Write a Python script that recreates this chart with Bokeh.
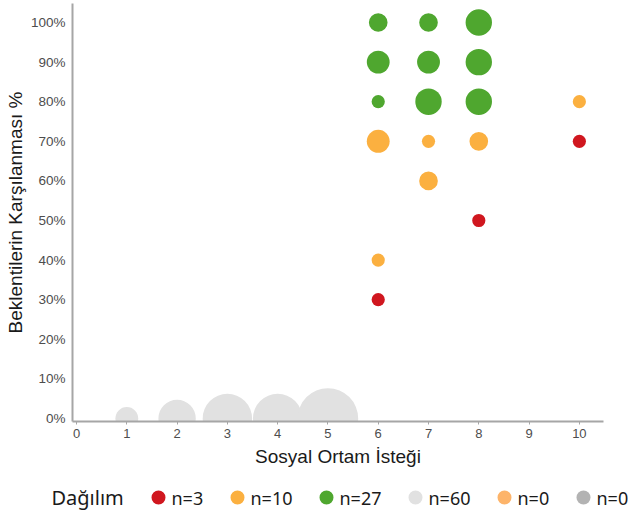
import numpy as np
from bokeh.plotting import figure
from bokeh.layouts import column
from bokeh.models import Range1d, FixedTicker
from bokeh.core.properties import value
from bokeh.embed import file_html
from bokeh.resources import INLINE

# ---------------- data ----------------
red_x = [6, 8, 10]
red_y = [30, 50, 70]
red_n = [1, 1, 1]

orange_x = [6, 6, 7, 7, 8, 10]
orange_y = [40, 70, 60, 70, 70, 80]
orange_n = [1, 3, 2, 1, 2, 1]

green_x = [6, 6, 6, 7, 7, 7, 8, 8, 8]
green_y = [80, 90, 100, 80, 90, 100, 80, 90, 100]
green_n = [1, 3, 2, 4, 3, 2, 4, 4, 4]

gray_x = [1, 2, 3, 4, 5]
gray_y = [0, 0, 0, 0, 0]
gray_n = [3, 8, 14, 14, 21]

lorange_x, lorange_y, lorange_n = [], [], []
dgray_x, dgray_y, dgray_n = [], [], []

x_ticks = [0, 1, 2, 3, 4, 5, 6, 7, 8, 9, 10]
y_ticks = [0, 10, 20, 30, 40, 50, 60, 70, 80, 90, 100]
y_tick_labels = ["0%", "10%", "20%", "30%", "40%", "50%", "60%", "70%", "80%", "90%", "100%"]

x_title = "Sosyal Ortam İsteği"
y_title = "Beklentilerin Karşılanması %"
legend_title = "Dağılım"

series = [
    (red_x, red_y, red_n, "#d0171f"),
    (orange_x, orange_y, orange_n, "#fbb040"),
    (green_x, green_y, green_n, "#4fa72f"),
    (gray_x, gray_y, gray_n, "#e1e1e1"),
    (lorange_x, lorange_y, lorange_n, "#fdb46a"),
    (dgray_x, dgray_y, dgray_n, "#b3b3b3"),
]

K = 6.6  # px radius per sqrt(count)

W = 628
H_MAIN = 469
H_LEG = 42

p = figure(width=W, height=H_MAIN, x_range=Range1d(-0.08, 10.48), y_range=Range1d(-0.76, 104.8),
           toolbar_location=None, output_backend="svg",
           min_border_left=72, min_border_right=25, min_border_top=3, min_border_bottom=40)
p.outline_line_color = None
p.grid.visible = False
p.background_fill_color = "white"
p.border_fill_color = "white"
p.frame_align = False

for xs, ys, ns, col in series:
    sizes = [2 * K * np.sqrt(n) for n in ns]
    p.scatter(x=xs, y=ys, size=sizes, fill_color=col, line_color=None, marker="circle")

for ax in (p.xaxis[0], p.yaxis[0]):
    ax.axis_line_color = "#a6a6a6"
    ax.axis_line_width = 2
    ax.major_tick_line_color = "#a6a6a6"
    ax.minor_tick_line_color = None
    ax.major_label_text_font = "Liberation Sans"
    ax.major_label_text_color = "#4d4d4d"
    ax.axis_label_text_font = "Liberation Sans"
    ax.axis_label_text_font_style = "normal"
    ax.axis_label_text_color = "#1a1a1a"
    ax.axis_label_text_font_size = "19px"

p.xaxis.ticker = FixedTicker(ticks=x_ticks)
p.xaxis.major_tick_out = 3
p.xaxis.major_tick_in = 0
p.xaxis.major_label_standoff = 4
p.xaxis.major_label_text_font_size = "13px"
p.xaxis.axis_label = x_title
p.xaxis.axis_label_standoff = 5

p.yaxis.ticker = FixedTicker(ticks=y_ticks)
p.yaxis.major_label_overrides = {t: l for t, l in zip(y_ticks, y_tick_labels)}
p.yaxis.major_tick_out = 0
p.yaxis.major_tick_in = 0
p.yaxis.major_label_standoff = 7
p.yaxis.major_label_text_font_size = "13.5px"
p.yaxis.axis_label = y_title
p.yaxis.axis_label_standoff = 2

# ---------------- legend ----------------
leg = figure(width=W, height=H_LEG, x_range=Range1d(0, W), y_range=Range1d(0, H_LEG),
             toolbar_location=None, output_backend="svg", min_border=0,
             x_axis_location=None, y_axis_location=None)
leg.outline_line_color = None
leg.grid.visible = False
leg.frame_align = False

labels = ["n=%d" % sum(s[2]) for s in series]
colors = [s[3] for s in series]
yc = 14
start = 158
cx = []
pos = start
for lab in labels:
    cx.append(pos)
    pos += 49 + 10 * len(lab)
leg.scatter(x=cx, y=[yc] * len(cx), size=14, fill_color=colors, line_color=None, marker="circle")
leg.text(x=[c + 13 for c in cx], y=[yc] * len(cx), text=labels, text_font=value("Noto Sans"),
         text_font_size=value("18px"), text_baseline="middle", text_align="left", text_color="#1a1a1a")
leg.text(x=[51], y=[yc], text=[legend_title], text_font=value("Noto Sans"),
         text_font_size=value("20px"), text_baseline="middle", text_align="left", text_color="#1a1a1a")

layout = column(p, leg, spacing=0)
open("out.html", "w").write(file_html(layout, INLINE))
